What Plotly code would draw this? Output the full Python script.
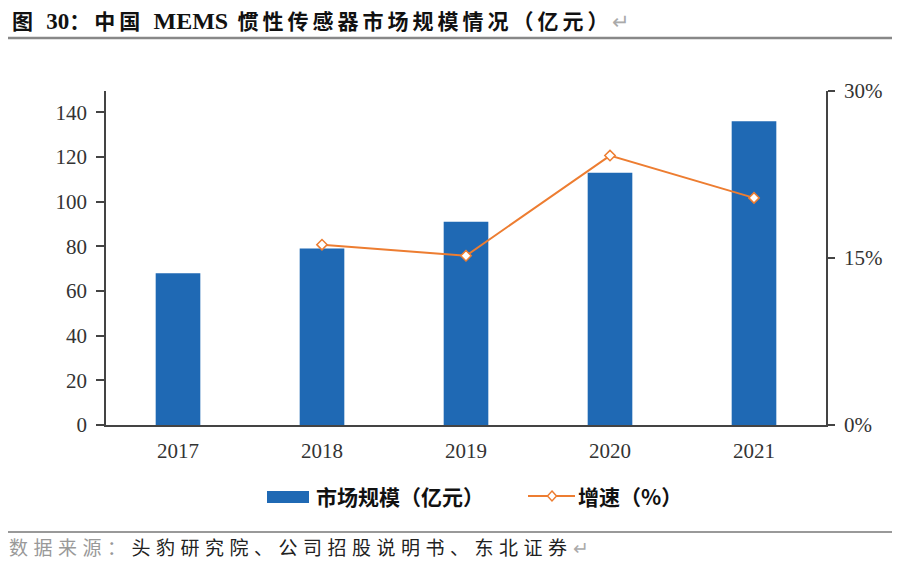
import plotly.graph_objects as go

years = ["2017", "2018", "2019", "2020", "2021"]
market_size = [68, 79, 91, 113, 136]          # 亿元
growth_years = ["2018", "2019", "2020", "2021"]
growth_rate = [16.2, 15.2, 24.2, 20.4]         # %

left_ticks = [0, 20, 40, 60, 80, 100, 120, 140]
right_ticks = [0, 15, 30]
right_labels = ["0%", "15%", "30%"]

BLUE = "#1F69B4"
ORANGE = "#ED7D31"

# page body has an 8px margin; keep the figure inside the 900x569 window
OFF = 8
W, H = 900 - 2 * OFF, 569 - 2 * OFF
# plot-area edges in window pixels
L, R, T, B = 106, 826, 91, 425


def px(x):
    return (x - L) / (R - L)


def py(y):
    return (B - y) / (B - T)


fig = go.Figure()
fig.add_trace(go.Bar(
    x=years, y=market_size, name="市场规模（亿元）",
    marker=dict(color=BLUE, line=dict(width=0)), width=0.31,
))
fig.add_trace(go.Scatter(
    x=growth_years, y=growth_rate, name="增速（%）", yaxis="y2",
    mode="lines+markers",
    line=dict(color=ORANGE, width=2),
    marker=dict(symbol="diamond", size=8, color="white",
                line=dict(color=ORANGE, width=1.5)),
))

tick_font = dict(family="Liberation Serif, Times New Roman, serif", size=21, color="#333")

fig.update_layout(
    width=W, height=H,
    margin=dict(l=L - OFF, r=W - (R - OFF), t=T - OFF, b=H - (B - OFF), autoexpand=False),
    paper_bgcolor="white", plot_bgcolor="white",
    showlegend=False,
    bargap=0.69,
    xaxis=dict(
        type="category", range=[-0.5, 4.5],
        showline=True, linecolor="#444", linewidth=1.5,
        ticks="", showgrid=False, tickfont=tick_font, ticklabelstandoff=6,
    ),
    yaxis=dict(
        range=[0, 149.6], tickvals=left_ticks,
        showline=True, linecolor="#444", linewidth=1.5,
        ticks="outside", ticklen=8, tickcolor="#444", tickwidth=1.5,
        showgrid=False, zeroline=False, tickfont=tick_font, ticklabelstandoff=5,
    ),
    yaxis2=dict(
        overlaying="y", side="right", range=[0, 30],
        tickvals=right_ticks, ticktext=right_labels,
        showline=True, linecolor="#444", linewidth=1.5,
        ticks="outside", ticklen=7, tickcolor="#444", tickwidth=1.5,
        showgrid=False, zeroline=False, tickfont=tick_font, ticklabelstandoff=5,
    ),
)

# title
CJK_SP = "letter-spacing:4px"
fig.add_annotation(
    xref="paper", yref="paper", x=px(10), y=py(21), xanchor="left", yanchor="middle",
    showarrow=False,
    text=f"<b><span style='{CJK_SP}'>图 </span><span style='font-size:23px'>30</span>"
         f"<span style='{CJK_SP}'>：中国 </span><span style='font-size:24px'>MEMS</span>"
         f"<span style='{CJK_SP}'> 惯性传感器市场规模情况（亿元）</span></b>"
         "<span style='color:#aaa'>↵</span>",
    font=dict(family="Liberation Serif, Noto Sans CJK SC", size=21, color="#111"),
)
fig.add_shape(type="line", xref="paper", yref="paper",
              x0=px(7), x1=px(900), y0=py(38), y1=py(38),
              line=dict(color="#888", width=2.5))

# custom legend
fig.add_shape(type="rect", xref="paper", yref="paper",
              x0=px(267), x1=px(309), y0=py(491), y1=py(503),
              fillcolor=BLUE, line=dict(width=0))
fig.add_annotation(
    xref="paper", yref="paper", x=px(314), y=py(496), xanchor="left", yanchor="middle",
    showarrow=False, text="<b>市场规模（亿元）</b>",
    font=dict(family="Noto Sans CJK SC", size=21, color="#111"),
)
fig.add_shape(type="line", xref="paper", yref="paper",
              x0=px(528), x1=px(575), y0=py(496), y1=py(496),
              line=dict(color=ORANGE, width=2))
dx, dy = 4.5 / (R - L), 5 / (B - T)
cx, cy = px(552), py(496)
fig.add_shape(type="path", xref="paper", yref="paper",
              path=f"M{cx},{cy + dy} L{cx + dx},{cy} L{cx},{cy - dy} L{cx - dx},{cy} Z",
              fillcolor="white", line=dict(color=ORANGE, width=1.5))
fig.add_annotation(
    xref="paper", yref="paper", x=px(576), y=py(496), xanchor="left", yanchor="middle",
    showarrow=False, text="<b>增速（%）</b>",
    font=dict(family="Noto Sans CJK SC", size=21, color="#111"),
)

# source
fig.add_shape(type="line", xref="paper", yref="paper",
              x0=px(7), x1=px(900), y0=py(532), y1=py(532),
              line=dict(color="#777", width=1.5))
fig.add_annotation(
    xref="paper", yref="paper", x=px(8), y=py(546), xanchor="left", yanchor="middle",
    showarrow=False, borderpad=0,
    text="<span style='letter-spacing:5.5px'><span style='color:#999'>数据来源：</span>"
         "头豹研究院、公司招股说明书、东北证券</span><span style='color:#aaa'>↵</span>",
    font=dict(family="Noto Sans CJK SC", size=19, color="#222"),
)

fig.write_html("out.html")
